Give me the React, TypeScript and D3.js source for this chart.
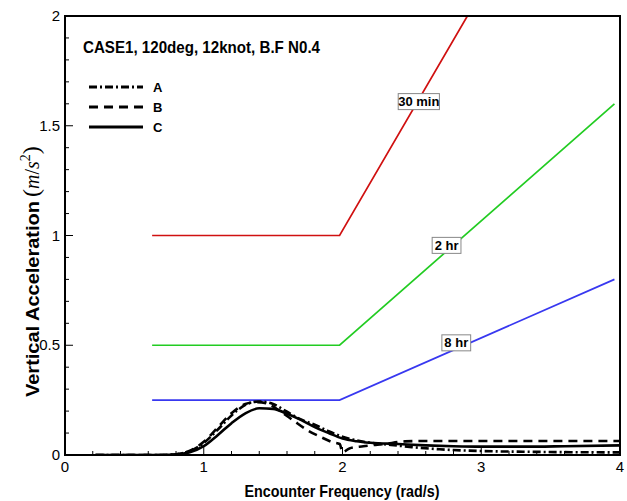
import React from "react";
import * as d3 from "d3";

// ---- data ----
const xTicks = [0, 1, 2, 3, 4];
const yTicks = [0, 0.5, 1, 1.5, 2];
const yTickLabels = ["0", "0.5", "1", "1.5", "2"];

// comfort limit lines (30 min, 2 hr, 8 hr)
const freq30min = [0.628, 1.979, 2.9];
const acc30min = [1.0, 1.0, 2.0];
const freq2hr = [0.628, 1.979, 3.96];
const acc2hr = [0.5, 0.5, 1.6];
const freq8hr = [0.628, 1.979, 3.96];
const acc8hr = [0.25, 0.25, 0.8];

const limitLabels = ["30 min", "2 hr", "8 hr"];
const limitLabelX = [2.55, 2.75, 2.82];
const limitLabelY = [1.61, 0.955, 0.511];

// response curves A, B, C
const freqA = [0.22, 0.7, 0.8, 0.9, 1.0, 1.1, 1.2, 1.3, 1.4, 1.5, 1.6, 1.7, 1.8, 1.9, 2.0, 2.1, 2.2, 2.35, 2.5, 2.7, 3.0, 3.3, 3.6, 4.0];
const accA = [0, 0, 0.003, 0.018, 0.055, 0.115, 0.18, 0.228, 0.244, 0.232, 0.197, 0.162, 0.138, 0.108, 0.083, 0.067, 0.056, 0.046, 0.036, 0.026, 0.018, 0.015, 0.013, 0.012];

const freqB = [0.22, 0.7, 0.8, 0.9, 1.0, 1.1, 1.2, 1.3, 1.38, 1.45, 1.55, 1.65, 1.75, 1.85, 1.93, 1.98, 2.0, 2.05, 2.15, 2.3, 2.45, 2.6, 3.0, 3.5, 4.0];
const accB = [0, 0, 0.003, 0.02, 0.06, 0.125, 0.19, 0.232, 0.241, 0.236, 0.2, 0.155, 0.112, 0.08, 0.058, 0.05, 0.012, 0.03, 0.04, 0.05, 0.062, 0.064, 0.064, 0.064, 0.064];

const freqC = [0.22, 0.7, 0.8, 0.9, 1.0, 1.1, 1.2, 1.3, 1.4, 1.5, 1.6, 1.7, 1.8, 1.9, 2.0, 2.1, 2.2, 2.4, 2.6, 2.8, 3.0, 3.3, 3.6, 4.0];
const accC = [0, 0, 0.002, 0.012, 0.04, 0.09, 0.145, 0.19, 0.213, 0.21, 0.188, 0.16, 0.127, 0.1, 0.075, 0.063, 0.056, 0.05, 0.044, 0.04, 0.038, 0.038, 0.04, 0.044];

const legendNames = ["A", "B", "C"];

const W = 627;
const H = 501;
const L = 65, R = 620, T = 16, B = 455;

const sansN = "'Liberation Sans Narrow', 'Arial Narrow', 'Liberation Sans', Arial, sans-serif";
const sans = "'Liberation Sans', Arial, sans-serif";

export default function App() {
  const x = d3.scaleLinear().domain([0, 4]).range([L, R]);
  const y = d3.scaleLinear().domain([0, 2]).range([B, T]);

  const zip = (xs: number[], ys: number[]) => xs.map((v, i) => [v, ys[i]] as [number, number]);
  const straight = d3.line<[number, number]>().x((d) => x(d[0])).y((d) => y(d[1]));
  const smooth = d3
    .line<[number, number]>()
    .x((d) => x(d[0]))
    .y((d) => y(d[1]))
    .curve(d3.curveMonotoneX);

  const limits = [
    { pts: zip(freq30min, acc30min), color: "#d01010" },
    { pts: zip(freq2hr, acc2hr), color: "#22cc22" },
    { pts: zip(freq8hr, acc8hr), color: "#3838f0" },
  ];
  const curves = [
    { pts: zip(freqA, accA), dash: "8,3,2,3" },
    { pts: zip(freqB, accB), dash: "9,6" },
    { pts: zip(freqC, accC), dash: "none" },
  ];

  const yMinor = d3.range(0, 2.0001, 0.1);
  const xMinor = d3.range(0, 4.0001, 0.2);

  return (
    <svg width={W} height={H} style={{ position: "absolute", left: 0, top: 0, background: "#fff" }}>
      <defs>
        <clipPath id="plotClip">
          <rect x={L} y={T} width={R - L} height={B - T} />
        </clipPath>
      </defs>
      <rect x={0} y={0} width={W} height={H} fill="#fff" />

      {/* ticks */}
      {yMinor.map((v, i) => {
        const major = Math.abs(v * 2 - Math.round(v * 2)) < 1e-6;
        return (
          <line key={"ym" + i} x1={L} x2={L + (major ? 8 : 4)} y1={y(v)} y2={y(v)} stroke="#000" strokeWidth={1} />
        );
      })}
      {xMinor.map((v, i) => {
        const major = Math.abs(v - Math.round(v)) < 1e-6;
        return (
          <line key={"xm" + i} x1={x(v)} x2={x(v)} y1={B} y2={B - (major ? 8 : 4)} stroke="#000" strokeWidth={1} />
        );
      })}

      {/* limit lines */}
      <g clipPath="url(#plotClip)">
        {limits.map((l, i) => (
          <path key={"lim" + i} d={straight(l.pts) || ""} fill="none" stroke={l.color} strokeWidth={1.7} />
        ))}
        {curves.map((c, i) => (
          <path
            key={"cur" + i}
            d={smooth(c.pts) || ""}
            fill="none"
            stroke="#000"
            strokeWidth={2.6}
            strokeDasharray={c.dash}
          />
        ))}
      </g>

      {/* limit labels */}
      {limitLabels.map((t, i) => {
        const w = t.length * 6.2 + 4;
        const cx = x(limitLabelX[i]);
        const cy = y(limitLabelY[i]);
        return (
          <g key={"ll" + i}>
            <rect x={cx - w / 2} y={cy - 8} width={w} height={16} fill="#fff" stroke="#888" strokeWidth={1} />
            <text x={cx} y={cy + 4.5} textAnchor="middle" fontFamily={sansN} fontWeight="bold" fontSize={13}>
              {t}
            </text>
          </g>
        );
      })}

      {/* frame */}
      <rect x={L} y={T} width={R - L} height={B - T} fill="none" stroke="#000" strokeWidth={2} />

      {/* tick labels */}
      {yTicks.map((v, i) => (
        <text key={"yl" + i} x={L - 5} y={y(v) + 5} textAnchor="end" fontFamily={sansN} fontSize={15}>
          {yTickLabels[i]}
        </text>
      ))}
      {xTicks.map((v, i) => (
        <text key={"xl" + i} x={x(v)} y={B + 17} textAnchor="middle" fontFamily={sansN} fontSize={15}>
          {String(v)}
        </text>
      ))}

      {/* title */}
      <text x={83} y={53} fontFamily={sans} fontWeight="bold" fontSize={17} textLength={237} lengthAdjust="spacingAndGlyphs">
        CASE1, 120deg, 12knot, B.F N0.4
      </text>

      {/* legend */}
      {legendNames.map((n, i) => (
        <g key={"lg" + i}>
          <line
            x1={89}
            x2={143}
            y1={87 + i * 20}
            y2={87 + i * 20}
            stroke="#000"
            strokeWidth={3}
            strokeDasharray={curves[i].dash}
          />
          <text x={153} y={92 + i * 20} fontFamily={sans} fontWeight="bold" fontSize={13}>
            {n}
          </text>
        </g>
      ))}

      {/* axis titles */}
      <text x={342} y={497} textAnchor="middle" fontFamily={sans} fontWeight="bold" fontSize={17} textLength={195} lengthAdjust="spacingAndGlyphs">
        Encounter Frequency (rad/s)
      </text>
      <g transform="translate(39,397) rotate(-90)">
        <text x={0} y={0} fontFamily={sans} fontWeight="bold" fontSize={19} textLength={196} lengthAdjust="spacingAndGlyphs">
          Vertical Acceleration
        </text>
        <text x={200} y={0} fontFamily="'Liberation Serif', 'DejaVu Serif', serif">
          <tspan fontSize={24}>(</tspan>
          <tspan fontSize={20} fontStyle="italic">m</tspan>
          <tspan fontSize={20}>/</tspan>
          <tspan fontSize={20} fontStyle="italic">s</tspan>
          <tspan fontSize={14} dy={-9}>2</tspan>
          <tspan fontSize={24} dy={9}>)</tspan>
        </text>
      </g>
    </svg>
  );
}
